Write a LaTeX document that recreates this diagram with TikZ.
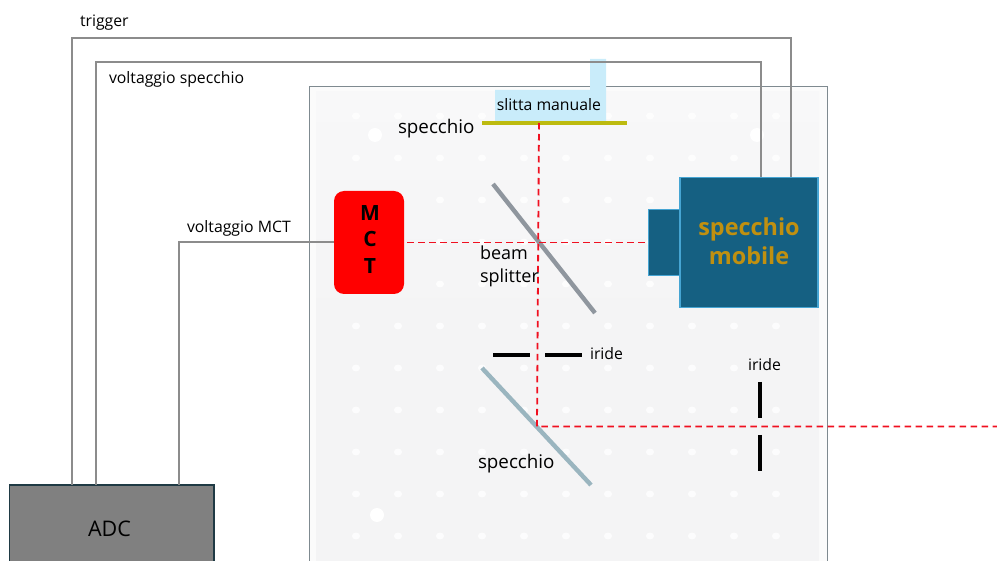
\documentclass[tikz,border=0pt]{standalone}
\usepackage{fontspec}
\setmainfont{Open Sans}
\definecolor{wire}{HTML}{8C8C8C}
\definecolor{beam}{HTML}{F01020}
\definecolor{plate}{HTML}{F4F4F5}
\definecolor{platetop}{HTML}{F8F8F9}
\definecolor{navy}{HTML}{156082}
\definecolor{edge}{HTML}{46A5D3}
\definecolor{gold}{HTML}{C09010}
\definecolor{slide}{HTML}{C9ECFA}
\definecolor{mirrorcol}{HTML}{BDBB10}
\definecolor{bscol}{HTML}{8F969E}
\definecolor{smcol}{HTML}{9AB5BF}
\definecolor{adcfill}{HTML}{808080}
\definecolor{adcedge}{HTML}{1F3A44}
\definecolor{frame}{HTML}{7F8A90}
\tikzset{
  x=1pt,y=-1pt,
  outer sep=0pt,
  wireline/.style={draw=wire,line width=2pt},
  beamline/.style={draw=beam,line width=1.8pt,dash pattern=on 6.5pt off 4.5pt},
  lab/.style={inner sep=0pt,font=\fontsize{15.8}{18}\selectfont,text=black,align=left},
  biglab/.style={lab,font=\fontsize{18.8}{22}\selectfont},
  bigcap/.style={line width=3.8pt,draw=black},
  unit/.style={draw=edge,line width=1.8pt,fill=navy},
}
\begin{document}
\begin{tikzpicture}
\useasboundingbox (0,0) rectangle (997,561);
% plate
\fill[plate!40!white] (309,86) rectangle (827,561);
\shade[top color=platetop,bottom color=plate,middle color=plate] (316,92) rectangle (819,561);
\draw[draw=frame,line width=0.9pt] (309,561) -- (309,86) -- (827,86) -- (827,561);
\foreach \x in {356,398,...,776}
  \foreach \y in {116,158,...,536}
    \fill[white,opacity=.8] (\x,\y) ellipse (4 and 3.4);
\foreach \x/\y in {375/135,377/515,757/135}
  \fill[white] (\x,\y) circle (7);
% slide
\path[fill=slide] (495,90) -- (590,90) -- (590,59) -- (606,59) -- (606,122) -- (495,122) -- cycle;
\node[lab,anchor=center] (slittalab) at (549,104.5) {slitta manuale};
% boxes
\node[unit,minimum width=34,minimum height=66,inner sep=0pt,anchor=north west] (stub) at (648.5,209.5) {};
\node[unit,minimum width=138,minimum height=130,inner sep=0pt,anchor=north west,align=center,text=gold,font=\fontsize{23.4}{29}\selectfont\bfseries] (mobile) at (680,177.5) {\raisebox{2.5pt}{specchio}\\\raisebox{2.5pt}{mobile}};
\node[fill=adcfill,draw=adcedge,line width=1.4pt,anchor=north west,minimum width=204.5,minimum height=90,inner sep=0pt] (adc) at (9.5,485) {};
\node[lab,font=\fontsize{21.5}{24}\selectfont] (adclab) at (109.5,528.5) {ADC};
\node[fill=red,rounded corners=10pt,minimum width=70,minimum height=103,inner sep=0pt,anchor=north west] (mct) at (334,191) {};
\node[inner sep=0pt,align=center,font=\fontsize{21}{26.7}\selectfont\bfseries] (mctlab) at (370,239.5) {M\\C\\T};
% wires
\coordinate (a1) at (72,485);
\coordinate (a2) at (96,485);
\coordinate (a3) at (179,485);
\coordinate (m1) at (761,177.5);
\coordinate (m2) at (791,177.5);
\draw[wireline] (a1) -- (72,38) -- (791,38) -- (m2);
\draw[wireline] (a2) -- (96,62) -- (761,62) -- (m1);
\draw[wireline] (a3) -- (179,242.5) -- (mct.west |- 0,242.5);
% optics
\coordinate (mirrorL) at (482,123);
\coordinate (mirrorR) at (627,123);
\draw[draw=mirrorcol,line width=4.2pt] (mirrorL) -- (mirrorR);
\coordinate (bsA) at (493,184);
\coordinate (bsB) at (595,313);
\draw[draw=bscol,line width=4.4pt] (bsA) -- (bsB);
\coordinate (smA) at (482,368);
\coordinate (smB) at (591,485);
\draw[draw=smcol,line width=4.4pt] (smA) -- (smB);
% irises
\coordinate (i1) at (493,355);\coordinate (i2) at (530,355);
\coordinate (i3) at (545,355);\coordinate (i4) at (582,355);
\draw[bigcap] (i1) -- (i2);
\draw[bigcap] (i3) -- (i4);
\coordinate (i5) at (760,382);\coordinate (i6) at (760,418);
\coordinate (i7) at (760,435);\coordinate (i8) at (760,471);
\draw[bigcap] (i5) -- (i6);
\draw[bigcap] (i7) -- (i8);
% beams
\coordinate (b1) at (539,123);
\coordinate (b2) at (537,426.5);
\coordinate (b3) at (997,426.5);
\coordinate (b4) at (407,242.5);
\coordinate (b5) at (647,242.5);
\draw[beamline] (b1) -- (b2) -- (b3);
\draw[beamline] (b4) -- (b5);
% labels
\node[lab,anchor=west] (t1) at (80,22.5) {trigger};
\node[lab,anchor=west] (t2) at (109,79) {voltaggio specchio};
\node[lab,anchor=west] (t3) at (187,228) {voltaggio MCT};
\node[biglab,anchor=west] (t4) at (398,129) {specchio};
\node[biglab,anchor=north west,align=left,font=\fontsize{18}{22.5}\selectfont] (t5) at (480,246) {beam\\splitter};
\node[lab,anchor=west] (t6) at (590,353.5) {iride};
\node[lab,anchor=west] (t7) at (748,365) {iride};
\node[biglab,anchor=west] (t8) at (478,464) {specchio};
\end{tikzpicture}
\end{document}
